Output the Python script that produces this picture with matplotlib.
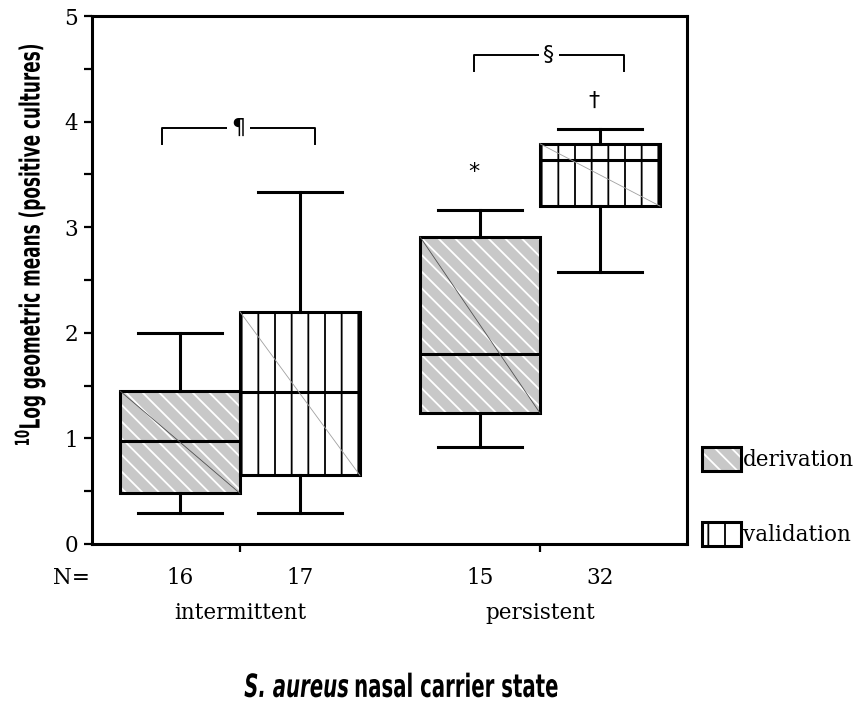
import matplotlib
matplotlib.use("Agg")
import matplotlib.pyplot as plt
from matplotlib.patches import Patch, Rectangle, PathPatch
from matplotlib.legend_handler import HandlerTuple
from matplotlib.textpath import TextPath
from matplotlib.font_manager import FontProperties
from matplotlib.path import Path
import matplotlib.transforms as mtransforms

# carrier groups and cohorts
groups = ["intermittent", "persistent"]
series = ["derivation", "validation"]
n_counts = [16, 17, 15, 32]

# box statistics, order: intermittent-der, intermittent-val, persistent-der, persistent-val
q1 = [0.48, 0.65, 1.24, 3.20]
medians = [0.98, 1.44, 1.80, 3.64]
q3 = [1.45, 2.20, 2.91, 3.79]
whisker_low = [0.29, 0.29, 0.92, 2.58]
whisker_high = [2.00, 3.33, 3.16, 3.93]

# significance markers
bracket_symbols = ["\u00b6", "\u00a7"]
bracket_x = [(0.74, 1.25), (1.78, 2.28)]
bracket_y = [3.94, 4.63]
bracket_drop = 0.15
star_labels = ["*", "\u2020"]
star_x = [1.78, 2.18]
star_y = [3.52, 4.20]

GRAY = "#c8c8c8"
SERIF = "DejaVu Serif"
FS = 15.5

plt.rcParams["hatch.linewidth"] = 1.3

fig = plt.figure(figsize=(8.66, 7.03), dpi=100)
ax = fig.add_axes([0.1062, 0.2262, 0.6871, 0.7510])
FIG_H = fig.get_figheight() * fig.dpi


def squeezed_label(pieces, size, center, length, vertical=False):
    """Draw bold text as an outline squeezed to a narrow width (no condensed font here)."""
    paths = []
    x = 0.0
    for s, prop in pieces:
        tp = TextPath((x, 0), s, size=size, prop=prop)
        paths.append(tp)
        x = tp.get_extents().x1 + size * 0.3
    path = Path.make_compound_path(*paths)
    ext = path.get_extents()
    px = fig.dpi / 72.0
    sx = length / (ext.width * px)
    t = mtransforms.Affine2D().translate(-(ext.x0 + ext.x1) / 2, -(ext.y0 + ext.y1) / 2)
    t = t.scale(sx * px, px)
    if vertical:
        t = t.rotate_deg(90)
    t = t.translate(center[0], FIG_H - center[1])
    fig.add_artist(PathPatch(path, transform=t, facecolor="black", linewidth=0))


width = 0.4
positions = []
for gi in range(len(groups)):
    for si in range(len(series)):
        positions.append(gi + 1 + (si - 0.5) * width)

stats = []
for i in range(len(positions)):
    stats.append(dict(med=medians[i], q1=q1[i], q3=q3[i],
                      whislo=whisker_low[i], whishi=whisker_high[i]))

line_kw = dict(color="black", linewidth=2.2)
bp = ax.bxp(stats, positions=positions, widths=width, capwidths=0.28,
            showfliers=False, patch_artist=True,
            boxprops=dict(facecolor="none", edgecolor="black", linewidth=2.2),
            whiskerprops=line_kw, capprops=line_kw, medianprops=line_kw)

for i, box in enumerate(bp["boxes"]):
    left = positions[i] - width / 2
    if i % 2 == 0:
        # gray fill with white diagonal stripes underneath the outline
        ax.add_patch(Rectangle((left, q1[i]), width, q3[i] - q1[i],
                               facecolor=GRAY, edgecolor="white", hatch="\\\\",
                               linewidth=0, zorder=1.5))
        diag = "#505050"
    else:
        box.set_facecolor("white")
        box.set_hatch("|")
        diag = "#a0a0a0"
    ax.plot([left, left + width], [q3[i], q1[i]], color=diag, lw=0.6, zorder=2.5)

ax.set_xlim(0.507, 2.49)
ax.set_ylim(0, 5)
ax.set_yticks([0, 1, 2, 3, 4, 5])
ax.set_yticks([0.5, 1.5, 2.5, 3.5, 4.5], minor=True)
ax.set_xticks([1, 2])
ax.set_xticklabels([])
ax.tick_params(axis="both", which="both", direction="out", length=6, width=1.6)
ax.tick_params(axis="y", labelsize=FS, pad=4)
for lab in ax.get_yticklabels():
    lab.set_family(SERIF)
for sp in ax.spines.values():
    sp.set_linewidth(2.2)

# counts and group names below the axis
tr = mtransforms.blended_transform_factory(ax.transData, ax.transAxes)
ax.text(-0.035, -0.064, "N=", transform=ax.transAxes, ha="center", va="center",
        fontsize=FS, family=SERIF)
for p, n in zip(positions, n_counts):
    ax.text(p, -0.064, str(n), transform=tr, ha="center", va="center",
            fontsize=FS, family=SERIF)
for gi, g in enumerate(groups):
    ax.text(gi + 1, -0.131, g, transform=tr, ha="center", va="center",
            fontsize=FS, family=SERIF)

# significance brackets
for (x0, x1), y, sym in zip(bracket_x, bracket_y, bracket_symbols):
    ax.plot([x0, x0, x1, x1], [y - bracket_drop, y, y, y - bracket_drop],
            color="black", lw=1.4, zorder=3)
    ax.text((x0 + x1) / 2, y, sym, ha="center", va="center", fontsize=16,
            zorder=4, bbox=dict(facecolor="white", edgecolor="none", pad=3))
for x, y, s in zip(star_x, star_y, star_labels):
    ax.text(x, y, s, ha="center", va="center", fontsize=16)

# axis titles in a narrow bold face
bold = FontProperties(family="DejaVu Sans", weight="bold")
bold_it = FontProperties(family="DejaVu Sans", weight="bold", style="italic")
squeezed_label([(r"$^{\mathbf{10}}$Log geometric means (positive cultures)", bold)],
               size=20, center=(30, 245), length=400, vertical=True)
squeezed_label([("S. aureus", bold_it), ("nasal carrier state", bold)],
               size=23, center=(401, 685), length=313)

# legend
der_handle = (Patch(facecolor=GRAY, edgecolor="white", hatch="\\\\", linewidth=0),
              Patch(facecolor="none", edgecolor="black", linewidth=2.2))
val_handle = Patch(facecolor="white", edgecolor="black", hatch="|", linewidth=2.2)
fig.legend([der_handle, val_handle], series, loc="upper left",
           bbox_to_anchor=(0.801, 0.3765), frameon=False,
           handler_map={tuple: HandlerTuple(ndivide=1, pad=0)},
           prop=dict(family=SERIF, size=FS), handlelength=28 / FS,
           handleheight=21 / FS, handletextpad=0.1, labelspacing=36.4 / FS,
           borderaxespad=0)

fig.savefig("out.png", dpi=100)
